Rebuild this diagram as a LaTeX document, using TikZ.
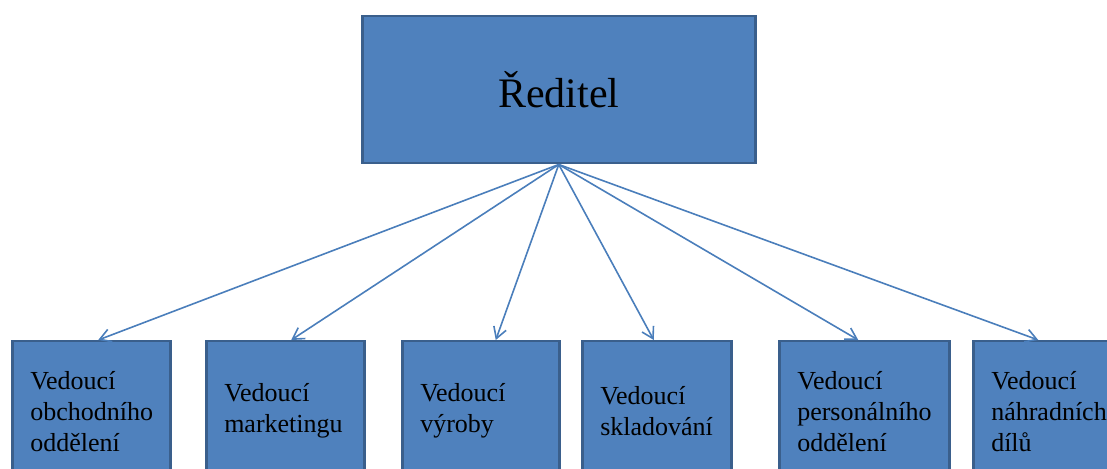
\documentclass[tikz,border=0pt]{standalone}
\usepackage{fontspec}
\setmainfont{Liberation Serif}
\usetikzlibrary{arrows.meta}
\hyphenpenalty=10000
\definecolor{boxblue}{HTML}{4F81BD}
\definecolor{boxedge}{HTML}{3A5F8C}
\definecolor{linkblue}{HTML}{4A7EBB}
\tikzset{
    head/.style={draw=boxedge, line width=2.5pt, fill=boxblue, anchor=north west,
        minimum width=393pt, minimum height=147pt, font=\fontsize{42}{50}\selectfont},
    unit/.style={draw=boxedge, line width=2.5pt, fill=boxblue, anchor=north west,
        minimum height=140pt, align=left, inner xsep=18pt, font=\fontsize{26}{31}\selectfont},
    link/.style={linkblue, line width=1.6pt, -{Straight Barb[length=11pt,width=13pt]}}
}
\begin{document}
\begin{tikzpicture}[x=1pt, y=1pt]
            \useasboundingbox (0,0) rectangle (1107,468);

            \node[head] (reditel) at (361,453) {Ředitel};

            \node[unit, text width=122pt] (obchod) at (11,128) {Vedoucí\\obchodního\\oddělení};
            \node[unit, text width=122pt] (marketing) at (205,128) {Vedoucí\\marketingu};
            \node[unit, text width=121pt] (vyroba) at (401,128) {Vedoucí\\výroby};
            \node[unit, text width=113pt] (sklad) at (581,128) {Vedoucí\\skladování};
            \node[unit, text width=134pt] (personal) at (778,128) {Vedoucí\\personálního\\oddělení};
            \node[unit, text width=122pt] (dily) at (972,128) {Vedoucí\\náhradních\\dílů};

            \draw[link] (reditel.south) -- ([xshift=7pt]obchod.north);
            \draw[link] (reditel.south) -- ([xshift=6pt]marketing.north);
            \draw[link] (reditel.south) -- ([xshift=15pt]vyroba.north);
            \draw[link] (reditel.south) -- ([xshift=-3pt]sklad.north);
            \draw[link] (reditel.south) -- ([xshift=-6pt]personal.north);
            \draw[link] (reditel.south) -- ([xshift=-14pt]dily.north);
        \end{tikzpicture}
\end{document}
